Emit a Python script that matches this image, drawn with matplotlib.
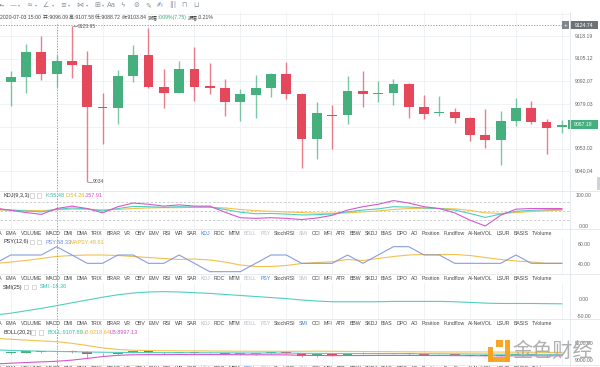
import matplotlib
matplotlib.use('Agg')
import matplotlib.pyplot as plt
from matplotlib.patches import Rectangle
from matplotlib.lines import Line2D
import numpy as np

# ---------------- data ----------------
OPEN = [9097.1, 9091.9, 9094.8, 9109.1, 9096.09, 9103.84, 9101.7, 9077.3, 9076.9, 9095.4,
        9107.4, 9089.0, 9085.6, 9099.1, 9089.3, 9088.5, 9080.0, 9084.4, 9088.4, 9096.4,
        9084.8, 9058.6, 9072.9, 9072.7, 9086.5, 9084.6, 9085.2, 9090.8, 9077.3, 9073.7,
        9074.2, 9070.9, 9061.3, 9058.0, 9069.0, 9076.7, 9068.8, 9066.0]
HIGH = [9100.5, 9098.1, 9113.5, 9118.3, 9107.58, 9123.95, 9109.7, 9085.6, 9098.7, 9113.1,
        9123.0, 9099.3, 9104.1, 9111.8, 9102.6, 9093.5, 9087.5, 9095.8, 9096.8, 9103.5,
        9085.5, 9080.2, 9078.3, 9095.2, 9098.3, 9092.2, 9093.5, 9091.0, 9084.4, 9083.7,
        9076.5, 9071.3, 9076.1, 9075.0, 9082.3, 9080.8, 9070.4, 9069.8]
LOW = [9089.0, 9078.0, 9085.2, 9093.1, 9088.72, 9093.9, 9034.0, 9055.7, 9067.3, 9091.9,
       9088.5, 9076.5, 9085.4, 9080.8, 9085.0, 9072.1, 9069.0, 9071.1, 9082.9, 9082.1,
       9041.9, 9047.1, 9053.2, 9067.3, 9077.5, 9080.0, 9078.3, 9070.8, 9070.2, 9072.3,
       9068.0, 9057.8, 9053.8, 9044.0, 9066.5, 9067.6, 9050.0, 9062.4]
CLOSE = [9091.9, 9094.8, 9109.1, 9096.09, 9103.84, 9101.7, 9077.3, 9076.9, 9095.4, 9107.4,
         9089.0, 9085.6, 9099.1, 9089.0, 9088.5, 9080.0, 9084.6, 9088.3, 9096.4, 9084.8,
         9058.6, 9073.7, 9072.3, 9086.5, 9084.6, 9085.2, 9090.8, 9077.3, 9073.4, 9074.2,
         9071.1, 9061.3, 9058.0, 9069.0, 9076.7, 9068.8, 9065.3, 9067.18]

K_VAL = [56, 53, 50, 47, 55.48, 60, 57, 50, 58, 65, 64, 62, 64, 63, 63, 55, 46, 41, 42, 40,
         37, 38, 40, 47, 53, 57, 64, 63, 60, 58, 53, 42, 29, 40, 49, 52, 54, 55]
D_VAL = [53, 53, 52, 51, 54.26, 56, 56, 54, 55, 58, 60, 61, 61, 62, 62, 60, 55, 51, 49, 47,
         45, 43, 43, 44, 47, 50, 55, 58, 59, 58, 57, 52, 44, 42, 45, 48, 51, 53]
J_VAL = [60, 52, 45, 39, 57.91, 66, 58, 44, 64, 76, 72, 66, 70, 66, 66, 46, 28, 26, 28, 26,
         22, 27, 36, 53, 64, 72, 84, 76, 64, 58, 44, 20, 1, 36, 56, 58, 58, 58]

PSY_VAL = [41.67, 50, 50, 50, 58.33, 50, 41.67, 41.67, 50, 50, 41.67, 41.67, 50, 41.67,
           33.33, 33.33, 33.33, 41.67, 50, 50, 41.67, 41.67, 41.67, 50, 41.67, 50, 58.33,
           58.33, 50, 50, 41.67, 41.67, 41.67, 41.67, 50, 41.67, 41.67, 41.67]
MAPSY_VAL = [41.5, 43, 44.5, 46.5, 48.61, 49.5, 50, 50, 49.5, 48.5, 47.5, 46.5, 45.5, 46,
             45, 43, 40, 38.5, 38.5, 39.5, 41.5, 42.5, 43.3, 45.5, 44.5, 46.5, 48.5, 50,
             50.5, 50.5, 50.5, 49.5, 47.5, 45.5, 44, 43, 41.67, 41.67]

SMI_VAL = [-45, -40, -33, -26, -18.36, -10, -2, 6, 13, 18, 21, 22, 21, 19, 17, 14, 11, 8, 5,
           2, -2, -5, -7, -7, -7, -7, -6, -6, -6, -6, -7, -9, -11, -12, -12, -12, -12.5, -13]

BOLL_MID = [9125, 9120, 9115, 9111, 9107.89, 9105, 9102, 9099, 9097, 9096, 9095, 9094, 9094,
            9093, 9093, 9092, 9091, 9090, 9090, 9089, 9087, 9086, 9085, 9085, 9084, 9084,
            9084, 9083, 9082, 9081, 9080, 9079, 9078, 9077, 9077, 9076, 9076, 9075]
BOLL_UB = [9256, 9246, 9236, 9227, 9218.64, 9200, 9175, 9148, 9130, 9122, 9118, 9116, 9115,
           9114, 9113, 9112, 9111, 9110, 9110, 9109, 9110, 9111, 9110, 9108, 9107, 9106,
           9105, 9104, 9103, 9102, 9102, 9102, 9102, 9101, 9100, 9099, 9098, 9097]
BOLL_LB = [8966, 8975, 8983, 8990, 8997.13, 9010, 9029, 9050, 9064, 9070, 9072, 9072, 9073,
           9072, 9073, 9072, 9071, 9070, 9070, 9069, 9064, 9062, 9061, 9062, 9062, 9063,
           9063, 9063, 9062, 9062, 9061, 9060, 9059, 9058, 9059, 9059, 9058, 9058]

MAIN_TICKS = [9118.19, 9105.12, 9092.07, 9079.03, 9053.02, 9040.04]
MAIN_GRID_ONLY = [9131.24, 9065.99]
KDJ_TICKS = [100.0, 0.0]
KDJ_LEVELS = [80, 50, 20]
PSY_TICKS = [60.0, 40.0]
SMI_TICKS = [0.0, -50.0]
BOLL_TICKS = [9200.0, 9000.0]
CURSOR_IDX = 4
CURSOR_PRICE = 9124.74
DATE_TEXT = "2020-07-03 15:00"

BUTTONS = ["MA", "EMA", "VOLUME", "MACD", "DMI", "DMA", "TRIX", "BRAR", "VR", "OBV", "EMV",
           "RSI", "WR", "SAR", "KDJ", "ROC", "MTM", "BOLL", "PSY", "StochRSI", "SMI", "CCI",
           "MFI", "ATR", "BBW", "SKDJ", "BIAS", "DPO", "AO", "Position", "Fundflow",
           "AI-NetVOL", "LSUR", "BASIS", "TVolume"]
ACTIVE = ["KDJ", "BOLL", "PSY", "SMI"]

# ---------------- styles ----------------
GREEN = '#45b07e'
RED = '#e5475b'
TEAL = '#4fcfbf'
YELLOW = '#f2c14e'
MAGENTA = '#d458cf'
BLUE = '#7d92e0'
GRID = '#eef1f4'
TXT = '#444444'
AX_TXT = '#666666'
SANS = ['Liberation Sans', 'DejaVu Sans']
CJK_FONT = ['Noto Sans CJK SC']

W, H = 600, 367
fig = plt.figure(figsize=(W / 100, H / 100), dpi=100)
fig.patch.set_facecolor('white')
renderer = fig.canvas.get_renderer()

STEP = 15.31
X1 = 10.7
XL = (1 - X1 / STEP, 1 + (570 - X1) / STEP)


def fx(x):
    return x / W


def fy(y):
    return 1 - y / H


def ipx(i):
    return X1 + (i - 1) * STEP


def add_ax(x0, y0, x1, y1, ylim):
    ax = fig.add_axes([fx(x0), fy(y1), (x1 - x0) / W, (y1 - y0) / H])
    ax.set_facecolor('none')
    for s in ax.spines.values():
        s.set_visible(False)
    ax.set_xticks([])
    ax.set_yticks([])
    ax.set_xlim(XL)
    ax.set_ylim(ylim)
    for gx in range(1, len(OPEN), 3):
        ax.axvline(gx, color=GRID, lw=0.6, zorder=0)
    return ax


def ftxt(x, y, s, **kw):
    kw.setdefault('family', SANS)
    return fig.text(fx(x), fy(y), s, **kw)


def frect(x0, y0, x1, y1, **kw):
    r = Rectangle((fx(x0), fy(y1)), (x1 - x0) / W, (y1 - y0) / H,
                  transform=fig.transFigure, **kw)
    fig.patches.append(r)
    return r


def fline(xs, ys, **kw):
    fig.lines.append(Line2D([fx(v) for v in xs], [fy(v) for v in ys],
                            transform=fig.transFigure, **kw))


def twidth(t):
    return t.get_window_extent(renderer=renderer).width


def right_labels(ax, vals):
    for v in vals:
        ax.text(584 / 570, v, f"{v:.2f}", transform=ax.get_yaxis_transform(),
                ha='center', va='center', fontsize=3.7, color=AX_TXT, family=SANS,
                clip_on=False)


def draw_candles(ax, lw, min_h):
    x = np.arange(len(OPEN))
    o = np.array(OPEN)
    c = np.array(CLOSE)
    cols = np.where(c >= o, GREEN, RED)
    ax.vlines(x, LOW, HIGH, colors=cols, lw=lw, alpha=0.7, zorder=2)
    ax.bar(x, np.maximum(np.abs(c - o), min_h), bottom=np.minimum(o, c), width=0.64,
           color=cols, linewidth=0, zorder=3)


def is_cjk(ch):
    return ord(ch) > 0x2E80


def split_runs(s):
    runs = []
    for ch in s:
        c = is_cjk(ch)
        if runs and runs[-1][1] == c:
            runs[-1][0] += ch
        else:
            runs.append([ch, c])
    return runs


xs = np.arange(len(OPEN))

# ---------------- main price panel ----------------
PPU = 1.73
main_top, main_bot = 12, 190.7
ymax = 9079.03 + (104 - main_top) / PPU
ymin = 9079.03 - (main_bot - 104) / PPU
axm = add_ax(0, main_top, 570, main_bot, (ymin, ymax))
for v in MAIN_TICKS + MAIN_GRID_ONLY:
    axm.axhline(v, color=GRID, lw=0.6, zorder=0)
draw_candles(axm, 1.0, 0.6)
right_labels(axm, MAIN_TICKS)

# max / min markers
imax = int(np.argmax(HIGH))
imin = int(np.argmin(LOW))
axm.plot([imax + 0.07, imax + 0.33], [HIGH[imax]] * 2, color='#777', lw=0.5)
axm.text(imax + 0.36, HIGH[imax], f"{HIGH[imax]:.2f}", fontsize=3.6, color='#555',
         va='center', ha='left', family=SANS)
axm.plot([imin + 0.07, imin + 0.3], [LOW[imin]] * 2, color='#777', lw=0.5)
axm.text(imin + 0.36, LOW[imin], f"{LOW[imin]:g}", fontsize=3.6, color='#555',
         va='center', ha='left', family=SANS)

# crosshair horizontal
axm.axhline(CURSOR_PRICE, xmax=562 / 570, color='#9a9a9a', lw=0.7, ls=(0, (1.2, 1.6)))

# header (latin and CJK runs drawn separately so widths are exact)
o4, h4, l4, c4 = OPEN[CURSOR_IDX], HIGH[CURSOR_IDX], LOW[CURSOR_IDX], CLOSE[CURSOR_IDX]
prev = CLOSE[CURSOR_IDX - 1]
chg = c4 - prev
pieces = [(f"{DATE_TEXT} 开:{o4:.2f} 高:{h4:.2f} 低:{l4:.2f} 收:{c4:.2f} 涨幅:", TXT),
          (f"{chg / prev * 100:.2f}%({chg:.2f})", '#2fae72'),
          (f" 振幅:{(h4 - l4) / prev * 100:.2f}%", TXT)]
runs = []
for s, col in pieces:
    for r, c in split_runs(s):
        runs.append((r, c, col))


def draw_runs(x, y, fs, draw=True):
    for r, c, col in runs:
        fam = CJK_FONT if c else SANS
        t = ftxt(x, y, r, fontsize=fs * (0.95 if c else 1.0), family=fam, color=col,
                 va='center', ha='left')
        w = twidth(t)
        if not draw:
            t.remove()
        x += w
    return x


tot = draw_runs(0, 0, 4, draw=False)
draw_runs(0.5, 17.5, 4 * 213 / tot)

# ---------------- KDJ ----------------
kppu = 0.306
axk = add_ax(0, 191, 570, 229, (0 - (229 - 226.3) / kppu, 100 + (195.7 - 191) / kppu))
for v in KDJ_LEVELS:
    axk.axhline(v, color='#c8c8c8', lw=0.6, ls=(0, (3, 2)), zorder=1)
axk.plot(xs, D_VAL, color=YELLOW, lw=0.8)
axk.plot(xs, K_VAL, color=TEAL, lw=0.8)
axk.plot(xs, J_VAL, color=MAGENTA, lw=0.8)
right_labels(axk, KDJ_TICKS)

# ---------------- PSY ----------------
axp = add_ax(0, 238, 570, 274, (60 - (274 - 245), 60 + (245 - 238)))
axp.plot(xs, MAPSY_VAL, color=YELLOW, lw=0.8)
axp.plot(xs, PSY_VAL, color=BLUE, lw=0.8, alpha=0.9)
right_labels(axp, PSY_TICKS)

# ---------------- SMI ----------------
sppu = 0.348
axs = add_ax(0, 283, 570, 319, (-(319 - 299.3) / sppu, (299.3 - 283) / sppu))
axs.plot(xs, SMI_VAL, color=TEAL, lw=0.8)
right_labels(axs, SMI_TICKS)

# ---------------- BOLL ----------------
bppu = 0.0885
axb = add_ax(0, 328, 570, 365, (9000 - (365 - 361) / bppu, 9200 + (343.3 - 328) / bppu))
axb.plot(xs, BOLL_UB, color=YELLOW, lw=0.8, zorder=4)
axb.plot(xs, BOLL_LB, color=MAGENTA, lw=0.8, zorder=4)
axb.plot(xs, BOLL_MID, color=TEAL, lw=0.8, zorder=4)
draw_candles(axb, 0.6, 6)
right_labels(axb, BOLL_TICKS)

# ---------------- panel labels ----------------
def panel_label(y, title, icon_x, items):
    ftxt(3, y, title, fontsize=4, color='#333', va='center', ha='left')
    for ix in icon_x:
        frect(ix, y - 2.2, ix + 4.2, y + 2.2, facecolor='white', edgecolor='#c9c9c9', lw=0.5)
    for x, s, col in items:
        ftxt(x, y, s, fontsize=4, color=col, va='center', ha='left')


i = CURSOR_IDX
panel_label(195.5, "KDJ(9,3,3)", [29.5, 37],
            [(45, f"K:{K_VAL[i]:.2f}", '#2fbfae'), (65, f"D:{D_VAL[i]:.2f}", '#e6b42c'),
             (85, f"J:{J_VAL[i]:.2f}", '#cf4ccc')])
panel_label(242, "PSY(12,6)", [29.5, 37],
            [(45, f"PSY:{PSY_VAL[i]:.2f}", '#6d86e6'), (70, f"MAPSY:{MAPSY_VAL[i]:.2f}", '#e6b42c')])
panel_label(287, "SMI(25)", [24, 32],
            [(40, f"SMI:{SMI_VAL[i]:.2f}", '#2fbfae')])
panel_label(332.5, "BOLL(20,2)", [31, 39],
            [(48, f"BOLL:{BOLL_MID[i]:.2f}", '#2fbfae'), (82, f"UB:{BOLL_UB[i]:.2f}", '#e6b42c'),
             (109, f"LB:{BOLL_LB[i]:.2f}", '#cf4ccc')])

# ---------------- button rows ----------------
BTN_FS = 3.7
tmp = [ftxt(0, 0, b, fontsize=BTN_FS) for b in BUTTONS]
bw = [twidth(t) for t in tmp]
for t in tmp:
    t.remove()
b_start, b_end = 6, 552
gap = (b_end - b_start - sum(bw[1:])) / (len(bw) - 2)
bx = [b_start]
for w in bw[1:-1]:
    bx.append(bx[-1] + w + gap)
bx = [b_start - gap - bw[0]] + bx


def button_row(y, own):
    for b, x in zip(BUTTONS, bx):
        if b == own:
            col = '#3f7fe6'
        elif b in ACTIVE:
            col = '#b9bdc4'
        else:
            col = TXT
        ftxt(x, y, b, fontsize=BTN_FS, color=col, va='center', ha='left')


button_row(233.3, "KDJ")
button_row(278.3, "PSY")
button_row(323.3, "SMI")
button_row(368.3, "BOLL")

# ---------------- separators / frame ----------------
for y in [190.7, 229.3, 274.3, 319.3, 364.5]:
    fline([0, 600], [y, y], color='#e3e6ea', lw=0.6)
fline([570, 570], [12, 367], color='#e3e6ea', lw=0.6)

# crosshair vertical
cx = ipx(CURSOR_IDX)
fline([cx, cx], [24, 367], color='#9a9a9a', lw=0.7, ls=(0, (1.2, 1.6)))

# cursor price box
frect(562, 21.5, 568.5, 29, facecolor='#80858c', edgecolor='none')
ftxt(565.2, 25.3, "+", fontsize=4.5, color='white', ha='center', va='center')
frect(570, 21.5, 597.5, 29, facecolor='#6d7279', edgecolor='none')
ftxt(583.7, 25.3, f"{CURSOR_PRICE:.2f}", fontsize=3.7, color='white', ha='center', va='center')

# last price box
last = CLOSE[-1]
ly = 104 + (9079.03 - last) * PPU
frect(568, ly - 4.2, 597.5, ly + 4.2, facecolor=GREEN, edgecolor='none')
ftxt(583.5, ly, f"{last:.2f}", fontsize=3.7, color='white', ha='center', va='center')

# scrollbar
frect(597, 177, 600, 190, facecolor='#cfd2d6', edgecolor='none')

# ---------------- toolbar ----------------
tools = [(1, '▸'), (13, '—'), (29, '≈'), (46, '∠'), (63, '≡'), (80, '⋈'), (97, '⊞'),
         (111, 'Aa'), (123, 'ϟ'), (136, '⊘'), (148, '✎'), (160, '✍'), (173, '|||'),
         (184, '⊓'), (196, '⊔')]
for x, s in tools:
    ftxt(x, 5, s, fontsize=5, color='#3f7fe6' if s == '✍' else '#8a8f96',
         ha='center', va='center', family=['DejaVu Sans'])
for x in [3.5, 19.5, 36, 53, 69.5, 87, 103.5]:
    ftxt(x, 5.5, '▾', fontsize=3, color='#9a9ea5', ha='center', va='center',
         family=['DejaVu Sans'])

# ---------------- watermark ----------------
OR = '#f5a21e'
frect(488, 347, 493, 362, facecolor=OR, edgecolor='none', alpha=0.95)
frect(488, 356.5, 510, 362, facecolor=OR, edgecolor='none', alpha=0.95)
frect(504.5, 340, 510, 362, facecolor=OR, edgecolor='none', alpha=0.95)
frect(496, 340, 502.5, 347, facecolor=OR, edgecolor='none', alpha=0.95)
ftxt(553, 351, "金色财经", fontsize=14.5, color='#a6a6a6', alpha=0.9, ha='center',
     va='center', family=CJK_FONT)

fig.savefig('out.png', dpi=100, facecolor='white')
